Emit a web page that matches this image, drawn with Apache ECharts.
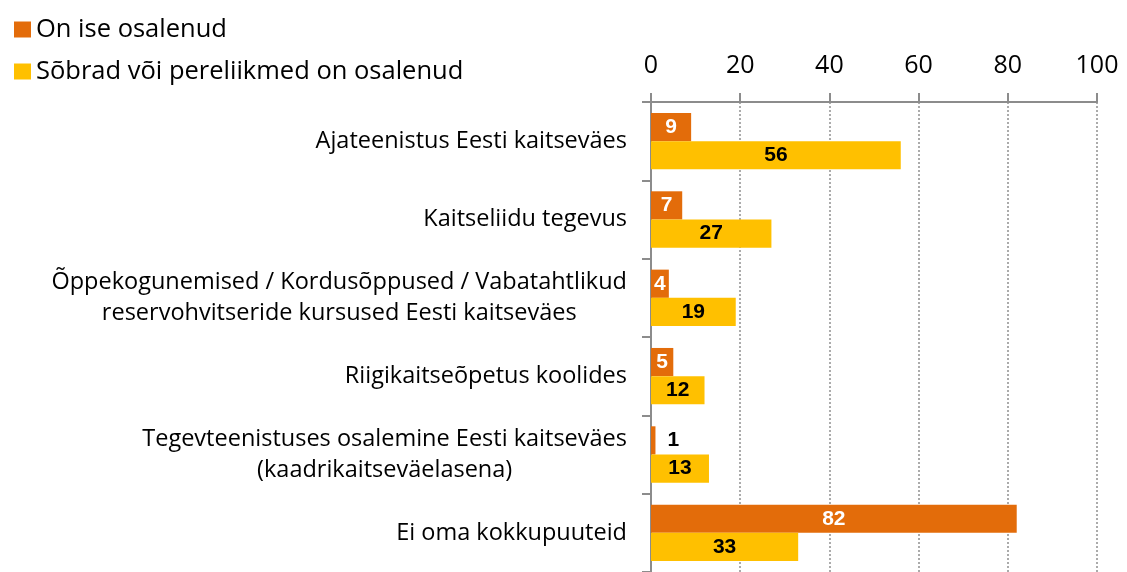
<!DOCTYPE html>
<html>
<head>
<meta charset="utf-8">
<script src="https://cdn.jsdelivr.net/npm/echarts@6/dist/echarts.min.js"></script>
<style>
  html, body { margin: 0; padding: 0; background: #fff; }
  #chart { width: 1127px; height: 572px; }
</style>
</head>
<body>
<div id="chart"></div>
<script>
var categories = [
    'Ajateenistus Eesti kaitseväes',
    'Kaitseliidu tegevus',
    'Õppekogunemised / Kordusõppused / Vabatahtlikud\nreservohvitseride kursused Eesti kaitseväes',
    'Riigikaitseõpetus koolides',
    'Tegevteenistuses osalemine Eesti kaitseväes\n(kaadrikaitseväelasena)',
    'Ei oma kokkupuuteid'
];
var seriesNames = ['On ise osalenud', 'Sõbrad või pereliikmed on osalenud'];
var selfValues = [9, 7, 4, 5, 1, 82];
var friendsValues = [56, 27, 19, 12, 13, 33];
var axisTicks = [0, 20, 40, 60, 80, 100];

var FONT = '"Open Sans", "Noto Sans", sans-serif';

function barData(values, textColor) {
    return values.map(function (v) {
        if (v < 3) {
            return { value: v, label: { position: 'right', distance: 12, color: '#000' } };
        }
        return { value: v, label: { color: textColor } };
    });
}

var myChart = echarts.init(document.getElementById('chart'));

var option = {
    animation: false,
    legend: {
        data: seriesNames,
        orient: 'vertical',
        left: 9,
        top: 9,
        icon: 'rect',
        itemWidth: 17,
        itemHeight: 16,
        itemGap: 11,
        textStyle: {
            fontFamily: FONT,
            fontSize: 25.5,
            color: '#000',
            lineHeight: 31,
            padding: [0, 0, 0, 0]
        }
    },
    grid: {
        left: 651,
        right: 30,
        top: 102,
        bottom: -4,
        containLabel: false
    },
    xAxis: {
        type: 'value',
        position: 'top',
        min: axisTicks[0],
        max: axisTicks[axisTicks.length - 1],
        interval: 20,
        axisLine: { show: true, lineStyle: { color: '#8c8c8c', width: 2 } },
        axisTick: { show: true, length: 9, lineStyle: { color: '#8c8c8c', width: 2 } },
        axisLabel: {
            fontFamily: FONT,
            fontSize: 25,
            color: '#000',
            margin: 24
        },
        splitLine: { show: true, lineStyle: { color: '#909090', type: [2, 2], width: 1.5 } }
    },
    yAxis: {
        type: 'category',
        data: categories,
        inverse: true,
        axisLine: { show: true, lineStyle: { color: '#8c8c8c', width: 2 } },
        axisTick: { show: true, length: 9, lineStyle: { color: '#8c8c8c', width: 2 } },
        axisLabel: {
            fontFamily: FONT,
            fontSize: 23.5,
            color: '#000',
            lineHeight: 31,
            align: 'right',
            margin: 24,
            // lines of a wrapped label are centred on each other
            formatter: function (value) {
                return value.split('\n').map(function (line) {
                    return '{c|' + line + '}';
                }).join('\n');
            },
            rich: {
                c: {
                    align: 'center',
                    fontFamily: FONT,
                    fontSize: 23.5,
                    lineHeight: 31,
                    color: '#000'
                }
            }
        }
    },
    series: [
        {
            name: seriesNames[0],
            type: 'bar',
            data: barData(selfValues, '#fff'),
            barGap: '0%',
            barCategoryGap: '28%',
            itemStyle: { color: '#E36C0A' },
            label: {
                show: true,
                position: 'inside',
                fontFamily: 'Liberation Sans, Arial, sans-serif',
                fontWeight: 'bold',
                fontSize: 21
            }
        },
        {
            name: seriesNames[1],
            type: 'bar',
            data: barData(friendsValues, '#000'),
            barGap: '0%',
            barCategoryGap: '28%',
            itemStyle: { color: '#FFC000' },
            label: {
                show: true,
                position: 'inside',
                fontFamily: 'Liberation Sans, Arial, sans-serif',
                fontWeight: 'bold',
                fontSize: 21
            }
        }
    ]
};

myChart.setOption(option);
window.addEventListener('resize', function () {
    myChart.resize();
});
</script>
</body>
</html>
